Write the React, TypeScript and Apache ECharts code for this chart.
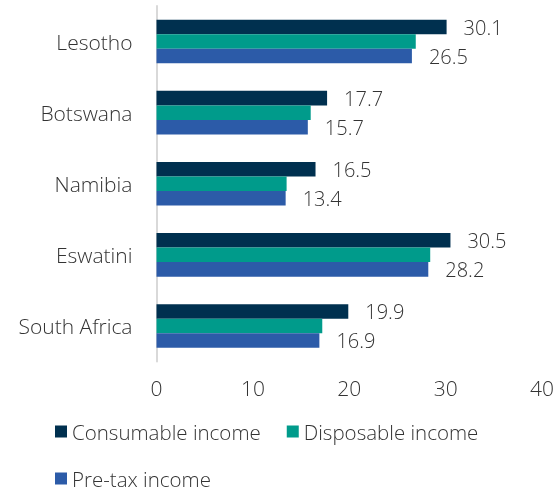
import React, { useEffect, useRef } from "react";
import * as echarts from "echarts";

const categories = ["Lesotho", "Botswana", "Namibia", "Eswatini", "South Africa"];
const consumable = [30.1, 17.7, 16.5, 30.5, 19.9];
const disposable = [26.9, 16.0, 13.5, 28.4, 17.2];
const preTax = [26.5, 15.7, 13.4, 28.2, 16.9];
const seriesNames = ["Consumable income", "Disposable income", "Pre-tax income"];
const xTicks = { min: 0, max: 40, interval: 10 };

const FONT = "'Open Sans', 'Noto Sans', sans-serif";
const TEXT = "#333333";

export default function App() {
  const ref = useRef<HTMLDivElement>(null);
  useEffect(() => {
    if (!ref.current) return;
    const chart = echarts.init(ref.current, null, { renderer: "svg" });
    const label = {
      show: true,
      position: "right",
      distance: 17,
      color: TEXT,
      fontSize: 20,
      fontFamily: FONT,
      fontWeight: 300,
      formatter: (p: any) => p.value.toFixed(1),
    };
    chart.setOption({
      animation: false,
      textStyle: { fontFamily: FONT },
      color: ["#00304F", "#009B8B", "#2C5BA8"],
      grid: { left: 156.5, right: 14, top: 6, bottom: 126.5, containLabel: false },
      xAxis: {
        type: "value",
        min: xTicks.min,
        max: xTicks.max,
        interval: xTicks.interval,
        axisLine: { show: false },
        axisTick: { show: false },
        splitLine: { show: false },
        axisLabel: { color: TEXT, fontSize: 21, fontFamily: FONT, fontWeight: 300, margin: 16 },
      },
      yAxis: {
        type: "category",
        data: categories,
        inverse: true,
        axisLine: { show: true, lineStyle: { color: "#d9d9d9", width: 2 } },
        axisTick: { show: false },
        axisLabel: { color: TEXT, fontSize: 21, fontFamily: FONT, fontWeight: 300, margin: 24 },
      },
      legend: {
        left: 55,
        top: 421,
        width: 480,
        icon: "rect",
        itemWidth: 12,
        itemHeight: 12,
        itemGap: 26,
        padding: 0,
        textStyle: { color: TEXT, fontSize: 20.5, fontFamily: FONT, fontWeight: 300, lineHeight: 19 },
        data: seriesNames,
      },
      series: [
        { name: seriesNames[0], type: "bar", data: consumable, barGap: "0%", barCategoryGap: "38.7%", label },
        { name: seriesNames[1], type: "bar", data: disposable, barGap: "0%", barCategoryGap: "38.7%" },
        { name: seriesNames[2], type: "bar", data: preTax, barGap: "0%", barCategoryGap: "38.7%", label },
      ],
    });
    return () => chart.dispose();
  }, []);
  return (
    <div
      ref={ref}
      style={{ position: "fixed", left: 0, top: 0, width: 557, height: 488 }}
    />
  );
}
